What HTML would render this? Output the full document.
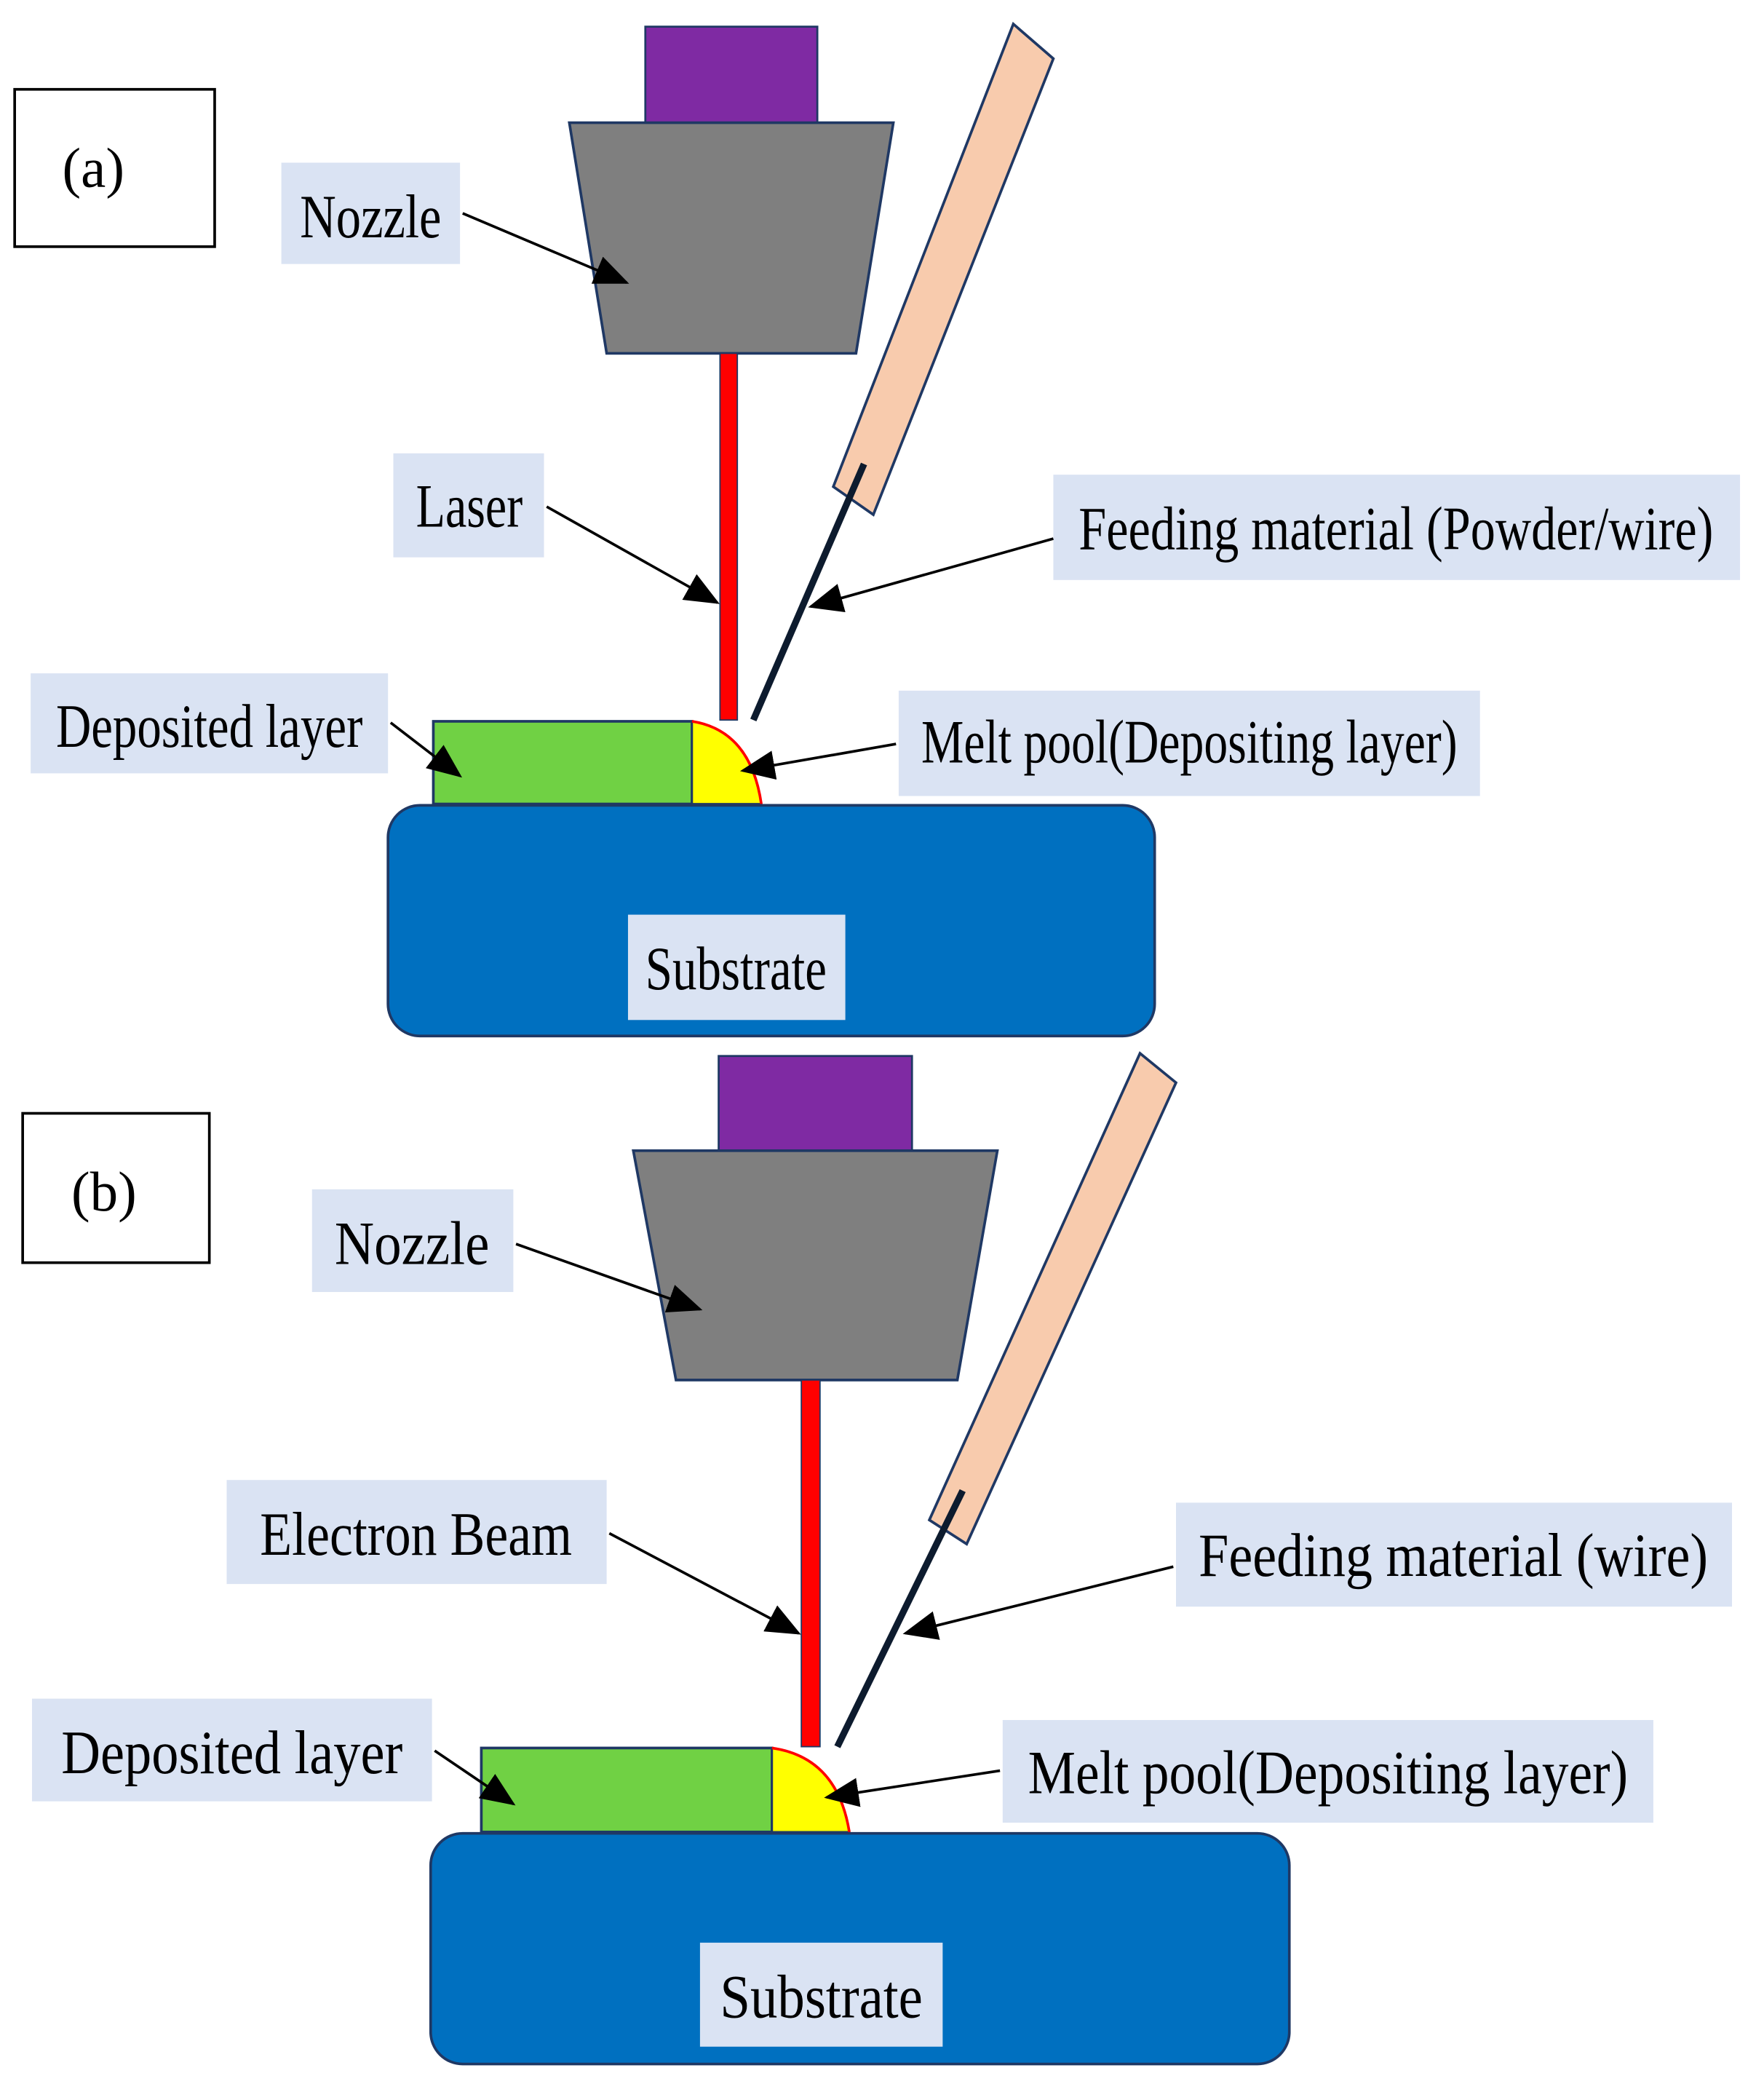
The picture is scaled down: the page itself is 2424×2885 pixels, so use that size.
<!DOCTYPE html>
<html><head><meta charset="utf-8"><style>html,body{margin:0;padding:0;background:#fff}svg{display:block}</style></head>
<body>
<svg width="2424" height="2885" viewBox="0 0 1323 1575" preserveAspectRatio="none" xmlns="http://www.w3.org/2000/svg" font-family="'Liberation Serif', serif">
<defs>
<marker id="ah" markerUnits="userSpaceOnUse" markerWidth="26" markerHeight="22" refX="24" refY="11" orient="auto"><path d="M0,0 L26,11 L0,22 Z" fill="#000"/></marker>
</defs>
<g font-size="46" text-anchor="middle" fill="#000">
<!-- (a) -->
<rect x="11" y="67" width="150" height="118" fill="#fff" stroke="#000" stroke-width="2"/>
<text x="70" y="140" font-size="42">(a)</text>
<rect x="484" y="20" width="129" height="72" fill="#7f2aa3" stroke="#1f3864" stroke-width="1.5"/>
<polygon points="427,92 670,92 642,265 455,265" fill="#7f7f7f" stroke="#1f3864" stroke-width="2"/>
<rect x="540" y="265" width="13" height="275" fill="#ff0000" stroke="#1f3864" stroke-width="1"/>
<polygon points="760,18 790,44 655,386 625,365" fill="#f8cbad" stroke="#1f3864" stroke-width="2"/>
<line x1="648" y1="348" x2="565" y2="540" stroke="#0d1b2e" stroke-width="5"/>
<rect x="211" y="122" width="134" height="76" fill="#dae3f3"/>
<text x="278" y="178" textLength="106" lengthAdjust="spacingAndGlyphs">Nozzle</text>
<rect x="295" y="340" width="113" height="78" fill="#dae3f3"/>
<text x="352" y="395" textLength="80" lengthAdjust="spacingAndGlyphs">Laser</text>
<rect x="790" y="356" width="515" height="79" fill="#dae3f3"/>
<text x="1047" y="412" textLength="476" lengthAdjust="spacingAndGlyphs">Feeding material (Powder/wire)</text>
<rect x="23" y="505" width="268" height="75" fill="#dae3f3"/>
<text x="157" y="560" textLength="230" lengthAdjust="spacingAndGlyphs">Deposited layer</text>
<rect x="325" y="541" width="194" height="62" fill="#70d144" stroke="#1f3864" stroke-width="2"/>
<path d="M519,541 Q563,548 571,603 L519,603 Z" fill="#ffff00" stroke="#1f3864" stroke-width="1.5"/>
<path d="M519,541 Q563,548 571,603" fill="none" stroke="#ff0000" stroke-width="2"/>
<rect x="674" y="518" width="436" height="79" fill="#dae3f3"/>
<text x="892" y="572" textLength="402" lengthAdjust="spacingAndGlyphs">Melt pool(Depositing layer)</text>
<rect x="291" y="604" width="575" height="173" rx="24" fill="#0070c0" stroke="#1f3864" stroke-width="2"/>
<rect x="471" y="686" width="163" height="79" fill="#dae3f3"/>
<text x="552" y="742" textLength="136" lengthAdjust="spacingAndGlyphs">Substrate</text>
<line x1="347" y1="160" x2="470" y2="212" stroke="#000" stroke-width="2" marker-end="url(#ah)"/>
<line x1="410" y1="380" x2="538" y2="452" stroke="#000" stroke-width="2" marker-end="url(#ah)"/>
<line x1="790" y1="404" x2="608" y2="455" stroke="#000" stroke-width="2" marker-end="url(#ah)"/>
<line x1="293" y1="542" x2="345" y2="582" stroke="#000" stroke-width="2" marker-end="url(#ah)"/>
<line x1="672" y1="558" x2="557" y2="578" stroke="#000" stroke-width="2" marker-end="url(#ah)"/>
<!-- (b) -->
<rect x="17" y="835" width="140" height="112" fill="#fff" stroke="#000" stroke-width="2"/>
<text x="78" y="908" font-size="42">(b)</text>
<rect x="539" y="792" width="145" height="71" fill="#7f2aa3" stroke="#1f3864" stroke-width="1.5"/>
<polygon points="475,863 748,863 718,1035 507,1035" fill="#7f7f7f" stroke="#1f3864" stroke-width="2"/>
<rect x="601" y="1035" width="14" height="275" fill="#ff0000" stroke="#1f3864" stroke-width="1"/>
<polygon points="855,790 882,812 725,1158 697,1140" fill="#f8cbad" stroke="#1f3864" stroke-width="2"/>
<line x1="722" y1="1118" x2="628" y2="1310" stroke="#0d1b2e" stroke-width="5"/>
<rect x="234" y="892" width="151" height="77" fill="#dae3f3"/>
<text x="309" y="948" textLength="116" lengthAdjust="spacingAndGlyphs">Nozzle</text>
<rect x="170" y="1110" width="285" height="78" fill="#dae3f3"/>
<text x="312" y="1166" textLength="234" lengthAdjust="spacingAndGlyphs">Electron Beam</text>
<rect x="882" y="1127" width="417" height="78" fill="#dae3f3"/>
<text x="1090" y="1182" textLength="382" lengthAdjust="spacingAndGlyphs">Feeding material (wire)</text>
<rect x="24" y="1274" width="300" height="77" fill="#dae3f3"/>
<text x="174" y="1330" textLength="256" lengthAdjust="spacingAndGlyphs">Deposited layer</text>
<rect x="361" y="1311" width="218" height="63" fill="#70d144" stroke="#1f3864" stroke-width="2"/>
<path d="M579,1311 Q628,1318 637,1374 L579,1374 Z" fill="#ffff00" stroke="#1f3864" stroke-width="1.5"/>
<path d="M579,1311 Q628,1318 637,1374" fill="none" stroke="#ff0000" stroke-width="2"/>
<rect x="752" y="1290" width="488" height="77" fill="#dae3f3"/>
<text x="996" y="1345" textLength="450" lengthAdjust="spacingAndGlyphs">Melt pool(Depositing layer)</text>
<rect x="323" y="1375" width="644" height="173" rx="24" fill="#0070c0" stroke="#1f3864" stroke-width="2"/>
<rect x="525" y="1457" width="182" height="78" fill="#dae3f3"/>
<text x="616" y="1513" textLength="152" lengthAdjust="spacingAndGlyphs">Substrate</text>
<line x1="387" y1="933" x2="525" y2="982" stroke="#000" stroke-width="2" marker-end="url(#ah)"/>
<line x1="457" y1="1150" x2="599" y2="1225" stroke="#000" stroke-width="2" marker-end="url(#ah)"/>
<line x1="880" y1="1175" x2="679" y2="1225" stroke="#000" stroke-width="2" marker-end="url(#ah)"/>
<line x1="326" y1="1313" x2="385" y2="1353" stroke="#000" stroke-width="2" marker-end="url(#ah)"/>
<line x1="750" y1="1328" x2="620" y2="1348" stroke="#000" stroke-width="2" marker-end="url(#ah)"/>
</g>
</svg>
</body></html>
